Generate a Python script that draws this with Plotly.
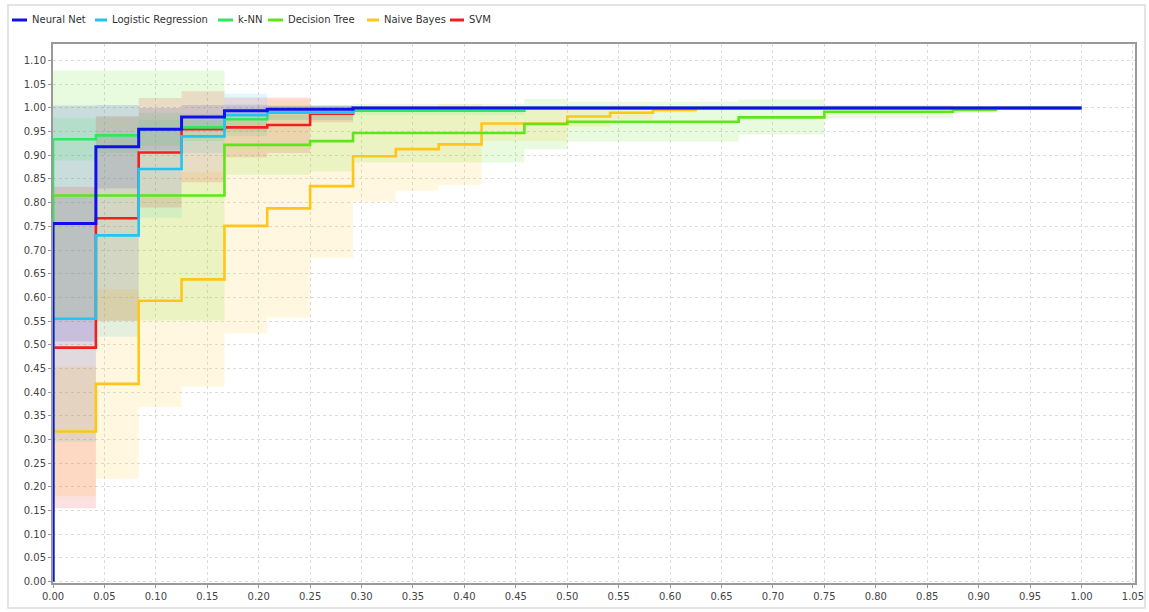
import plotly.graph_objects as go

# ---------------- data ----------------
NAMES = ["Neural Net", "Logistic Regression", "k-NN", "Decision Tree", "Naive Bayes", "SVM"]
COLORS = ["#1010ee", "#22c4f2", "#2ee860", "#5ee61a", "#ffc61a", "#f02020"]

# false positive rate breakpoints and the TPR value after each breakpoint
NN_FPR = [0.0, 0.0417, 0.0833, 0.125, 0.1667, 0.2083, 0.2917]
NN_TPR = [0.756, 0.918, 0.955, 0.981, 0.994, 0.997, 1.0]
NN_LO = [0.507, 0.830, 0.910, 0.956, 0.981, 0.990]
NN_HI = [1.005, 1.006, 1.000, 1.006, 1.007, 1.004]

LR_FPR = [0.0, 0.0417, 0.0833, 0.125, 0.1667, 0.2083, 0.2917]
LR_TPR = [0.555, 0.731, 0.871, 0.940, 0.985, 0.990, 1.0]
LR_LO = [0.295, 0.517, 0.768, 0.905, 0.940, 0.975]
LR_HI = [0.815, 0.945, 0.975, 0.975, 1.030, 1.005]

KNN_FPR = [0.0, 0.0417, 0.0833, 0.125, 0.1667, 0.2083, 0.2917, 0.4583]
KNN_TPR = [0.934, 0.942, 0.955, 0.959, 0.976, 0.990, 0.994, 1.0]
KNN_LO = [0.889, 0.905, 0.920, 0.930, 0.950, 0.975, 0.985]
KNN_HI = [0.979, 0.980, 0.990, 0.988, 1.000, 1.005, 1.003]

DT_FPR = [0.0, 0.1667, 0.25, 0.2917, 0.4583, 0.5, 0.6667, 0.75, 0.875, 0.9167]
DT_TPR = [0.815, 0.922, 0.930, 0.947, 0.966, 0.971, 0.980, 0.992, 0.996, 1.0]
DT_LO = [0.551, 0.859, 0.866, 0.885, 0.913, 0.929, 0.944, 0.978, 0.990]
DT_HI = [1.079, 0.985, 0.994, 1.009, 1.019, 1.013, 1.018, 1.006, 1.002]

NB_FPR = [0.0, 0.0417, 0.0833, 0.125, 0.1667, 0.2083, 0.25, 0.2917, 0.3333,
          0.375, 0.4167, 0.5, 0.5417, 0.5833, 0.625]
NB_TPR = [0.317, 0.4175, 0.593, 0.638, 0.751, 0.788, 0.835, 0.898, 0.913,
          0.923, 0.967, 0.982, 0.990, 0.996, 1.0]
NB_LO = [0.180, 0.217, 0.368, 0.412, 0.524, 0.557, 0.683, 0.802, 0.825,
         0.838, 0.930, 0.960, 0.975, 0.990]
NB_HI = [0.454, 0.617, 0.818, 0.864, 0.978, 1.019, 0.987, 0.994, 1.000,
         1.008, 1.004, 1.004, 1.005, 1.002]

SVM_FPR = [0.0, 0.0417, 0.0833, 0.125, 0.1667, 0.2083, 0.25, 0.2917]
SVM_TPR = [0.494, 0.767, 0.906, 0.955, 0.959, 0.964, 0.988, 1.0]
SVM_LO = [0.155, 0.550, 0.790, 0.843, 0.896, 0.905, 0.970]
SVM_HI = [0.833, 0.983, 1.021, 1.035, 1.022, 1.022, 1.005]

X_TICKS = [i / 20 for i in range(22)]
Y_TICKS = [i / 20 for i in range(23)]

SERIES = {
    "Neural Net": (NN_FPR, NN_TPR, NN_LO, NN_HI),
    "Logistic Regression": (LR_FPR, LR_TPR, LR_LO, LR_HI),
    "k-NN": (KNN_FPR, KNN_TPR, KNN_LO, KNN_HI),
    "Decision Tree": (DT_FPR, DT_TPR, DT_LO, DT_HI),
    "Naive Bayes": (NB_FPR, NB_TPR, NB_LO, NB_HI),
    "SVM": (SVM_FPR, SVM_TPR, SVM_LO, SVM_HI),
}
COLOR = dict(zip(NAMES, COLORS))


def rgba(hexc, a):
    h = hexc.lstrip("#")
    r, g, b = int(h[0:2], 16), int(h[2:4], 16), int(h[4:6], 16)
    return f"rgba({r},{g},{b},{a})"


fig = go.Figure()

# confidence bands (step shaped)
for name in NAMES:
    fpr, tpr, lo, hi = SERIES[name]
    bx = fpr
    fig.add_trace(go.Scatter(x=bx, y=lo + [lo[-1]], mode="lines", line=dict(width=0, shape="hv"),
                             hoverinfo="skip", showlegend=False))
    fig.add_trace(go.Scatter(x=bx, y=hi + [hi[-1]], mode="lines", line=dict(width=0, shape="hv"),
                             fill="tonexty", fillcolor=rgba(COLOR[name], 0.14),
                             hoverinfo="skip", showlegend=False))

# ROC lines
DRAW_ORDER = ["Naive Bayes", "Decision Tree", "SVM", "k-NN", "Logistic Regression", "Neural Net"]
for name in DRAW_ORDER:
    fpr, tpr, lo, hi = SERIES[name]
    lx = [0.0] + fpr + [1.0]
    ly = [0.0] + tpr + [tpr[-1]]
    fig.add_trace(go.Scatter(x=lx, y=ly, mode="lines", name=name,
                             line=dict(color=COLOR[name], width=2.6 if name != "Neural Net" else 3, shape="hv"),
                             showlegend=False))

# plot-area geometry (pixels) used for the hand-made legend
L, R, T, B = 53, 14, 44, 29
W, H = 1149, 612
PW, PH = W - L - R, H - T - B


def px_x(p):
    return (p - L) / PW


def px_y(p):
    return (H - B - p) / PH


LEG_SYMBOL_X = [12, 95, 218, 268, 367, 450]
LEG_TEXT_X = [30, 110, 236, 286, 382, 467]
LEG_Y = 20
shapes = []
annotations = []
for i, name in enumerate(NAMES):
    shapes.append(dict(type="line", xref="paper", yref="paper",
                       x0=px_x(LEG_SYMBOL_X[i]), x1=px_x(LEG_TEXT_X[i] - 3),
                       y0=px_y(LEG_Y), y1=px_y(LEG_Y),
                       line=dict(color=COLOR[name], width=3)))
    annotations.append(dict(xref="paper", yref="paper", x=px_x(LEG_TEXT_X[i]), y=px_y(LEG_Y),
                            text=name, showarrow=False, xanchor="left", yanchor="middle",
                            font=dict(family="DejaVu Sans", size=10, color="#333333")))

# outer light frame
shapes.append(dict(type="rect", xref="paper", yref="paper",
                   x0=px_x(8), x1=px_x(1145), y0=px_y(608), y1=px_y(5),
                   line=dict(color="#dcdcdc", width=1.5), layer="below"))

fig.update_layout(
    width=W, height=H,
    margin=dict(l=L, r=R, t=T, b=B),
    paper_bgcolor="white", plot_bgcolor="white",
    shapes=shapes, annotations=annotations,
    showlegend=False,
    font=dict(family="DejaVu Sans", size=10, color="#444444"),
)
fig.update_xaxes(range=[0, 1.052], tickvals=X_TICKS, tickformat=".2f",
                 showgrid=True, gridcolor="#dcdcdc", griddash="dot", gridwidth=1,
                 showline=True, linecolor="#999999", linewidth=2, mirror=True,
                 ticks="outside", ticklen=3, tickcolor="#999999", zeroline=False,
                 automargin=False, tickfont=dict(size=10, color="#444444"))
fig.update_yaxes(range=[-0.003, 1.135], tickvals=Y_TICKS, tickformat=".2f",
                 showgrid=True, gridcolor="#dcdcdc", griddash="dot", gridwidth=1,
                 showline=True, linecolor="#999999", linewidth=2, mirror=True,
                 ticks="outside", ticklen=3, tickcolor="#999999", zeroline=False,
                 automargin=False, tickfont=dict(size=10, color="#444444"))

fig.write_html("out.html", config={"displayModeBar": False},
               post_script="document.body.style.margin='0px';document.body.style.padding='0px';")
